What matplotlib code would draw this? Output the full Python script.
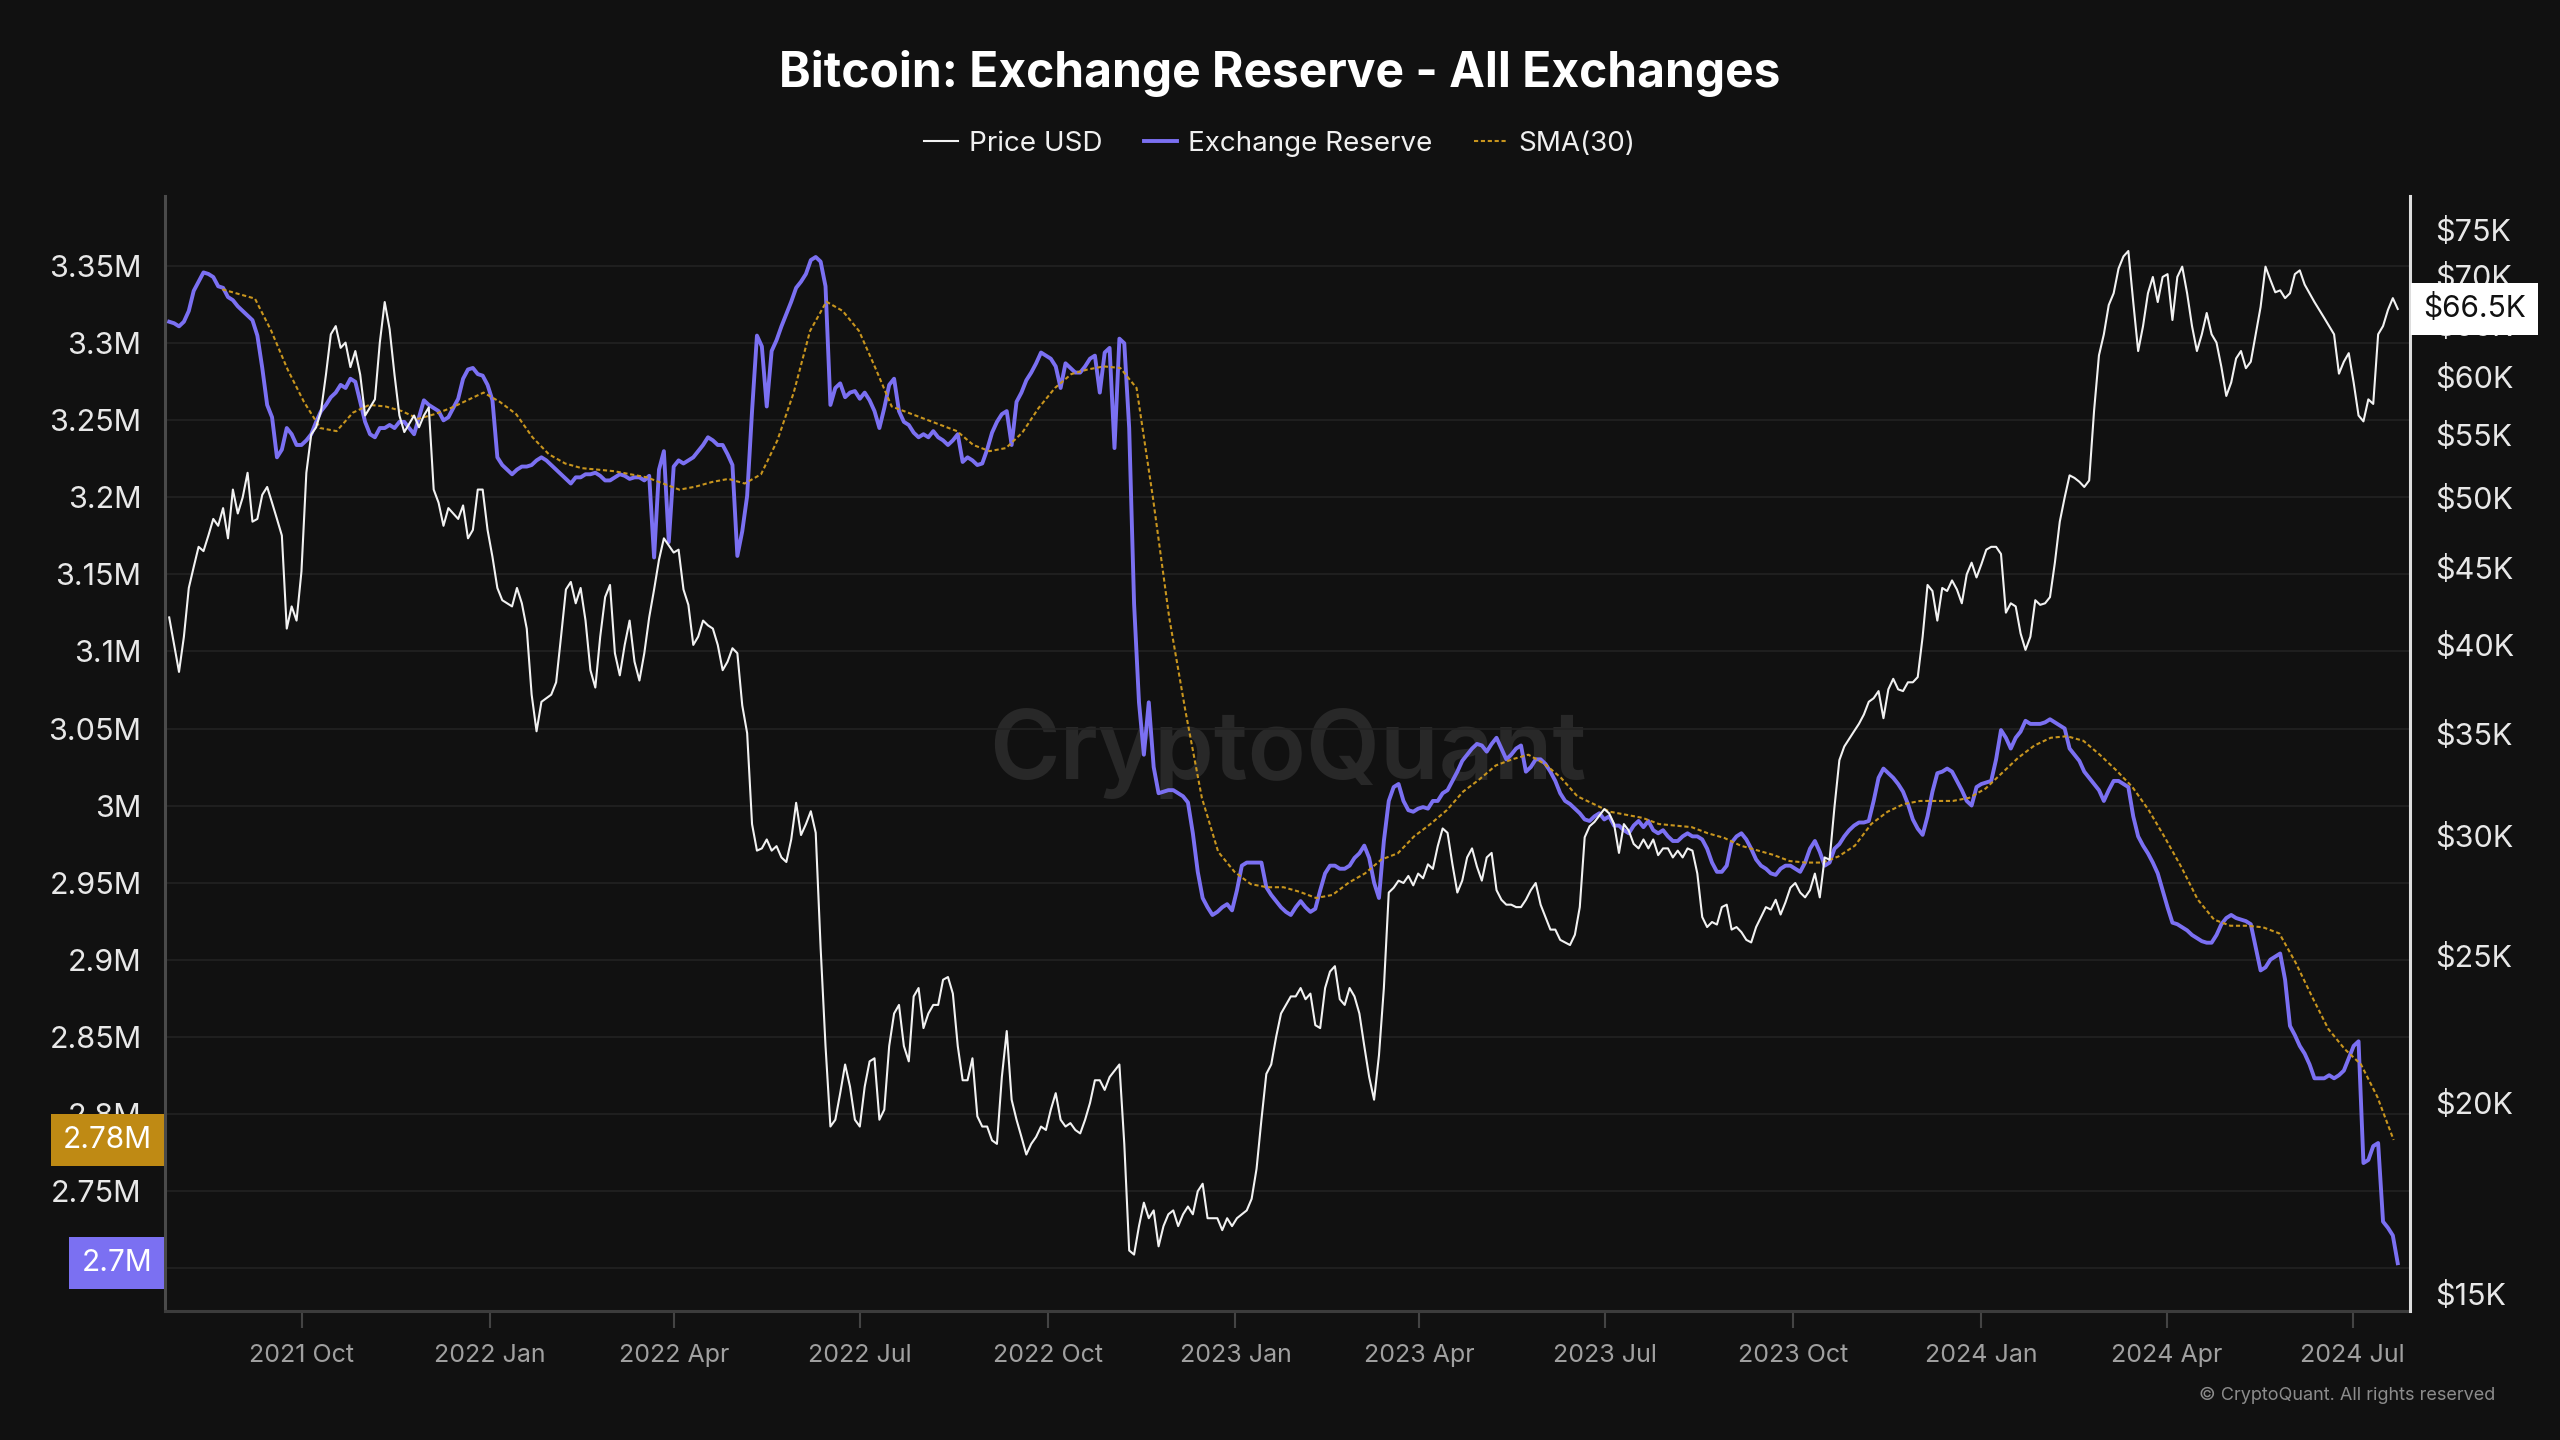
"""Bitcoin exchange reserve vs price, CryptoQuant style"""
import pandas as pd
import numpy as np
import matplotlib
matplotlib.use("Agg")
import matplotlib.pyplot as plt
import matplotlib.dates as mdates
import matplotlib.transforms as mtransforms
from matplotlib.ticker import FixedLocator, FuncFormatter, NullLocator

plt.rcParams['font.family'] = ['Inter', 'DejaVu Sans']

# ---- data ----
# price, USD thousands, evenly sampled between the two dates
price_start, price_end = "2021-07-28", "2024-07-23"
price_usd_k = [
    41.7, 40.0, 38.4, 40.5, 43.6, 45.0, 46.4, 46.1, 47.2, 48.4,
    47.9, 49.2, 47.0, 50.6, 48.8, 50.0, 51.9, 48.2, 48.4, 50.2,
    50.8, 49.6, 48.4, 47.2, 41.0, 42.4, 41.5, 44.7, 51.9, 55.0,
    55.6, 57.0, 60.2, 64.0, 64.8, 62.7, 63.2, 60.9, 62.4, 60.2,
    56.6, 57.3, 58.0, 63.2, 67.2, 64.5, 60.2, 56.6, 55.2, 55.9,
    56.6, 55.6, 56.6, 57.3, 50.6, 49.6, 47.9, 49.2, 48.8, 48.4,
    49.4, 47.0, 47.6, 50.6, 50.6, 47.6, 45.7, 43.6, 42.8, 42.6,
    42.4, 43.6, 42.6, 41.0, 37.1, 35.1, 36.7, 36.9, 37.1, 37.8,
    40.5, 43.5, 44.0, 42.6, 43.6, 41.5, 38.5, 37.5, 40.5, 43.0,
    43.8, 39.5, 38.2, 40.0, 41.5, 39.0, 37.9, 39.5, 41.7, 43.5,
    45.5, 47.0, 46.5, 46.0, 46.2, 43.5, 42.5, 40.0, 40.5, 41.5,
    41.2, 41.0, 40.0, 38.5, 39.0, 39.8, 39.5, 36.5, 35.0,
    30.5, 29.3, 29.4, 29.8, 29.3, 29.5, 29.0, 28.8, 29.8, 31.5,
    30.0, 30.5, 31.1, 30.1, 25.3, 21.8, 19.3, 19.5, 20.3, 21.2,
    20.5, 19.5, 19.3, 20.5, 21.3, 21.4, 19.5, 19.8, 21.8, 22.9,
    23.2, 21.8, 21.3, 23.5, 23.8,
    22.4, 22.9, 23.2, 23.2, 24.1, 24.2, 23.6, 21.8, 20.7, 20.7,
    21.4, 19.6, 19.3,
    19.3, 18.9, 18.8, 20.8, 22.3, 20.1, 19.5, 19.0, 18.5, 18.8,
    19.0, 19.3, 19.2, 19.8, 20.3, 19.5, 19.3, 19.4, 19.2, 19.1,
    19.5, 20.0, 20.7, 20.7, 20.4, 20.8, 21.0, 21.2, 18.8,
    16.0, 15.9, 16.6, 17.2, 16.8, 17.0, 16.1, 16.6, 16.9, 17.0,
    16.6, 16.9, 17.1, 16.9, 17.5, 17.7, 16.8, 16.8, 16.8, 16.5,
    16.8, 16.6, 16.8, 16.9, 17.0, 17.3,
    18.1, 19.5, 20.9, 21.2, 22.1, 22.9, 23.2, 23.5, 23.5, 23.8,
    23.4, 23.6, 22.5, 22.4, 23.8, 24.4, 24.6, 23.4, 23.2, 23.8,
    23.5, 22.9, 21.8, 20.8, 20.1, 21.5, 23.8, 27.5, 27.7, 28.0,
    27.9, 28.2, 27.8, 28.3, 28.1, 28.7, 28.5, 29.5, 30.3, 30.1,
    28.7, 27.5, 28.0, 29.0, 29.4, 28.6, 28.0, 29.0, 29.2, 27.6,
    27.2, 27.0, 27.0, 26.9, 26.9, 27.2, 27.6, 27.9, 27.0, 26.5,
    26.0, 26.0, 25.6, 25.5, 25.4, 25.8, 26.9, 29.9, 30.4, 30.6,
    30.9, 31.2, 31.0, 30.5, 29.2, 30.5, 30.2, 29.6, 29.4, 29.8,
    29.4, 29.8, 29.1, 29.4, 29.4, 29.0, 29.3, 29.0, 29.4, 29.3,
    28.3, 26.5, 26.1, 26.3, 26.2, 26.9, 27.0, 26.0, 26.1, 25.9,
    25.6, 25.5, 26.1, 26.5, 26.9, 26.8, 27.2, 26.6, 27.1, 27.7,
    27.9, 27.5, 27.3, 27.6, 28.3, 27.3, 29.0, 28.9, 31.3, 33.6,
    34.3, 34.7, 35.1, 35.5, 36.0, 36.7, 36.9, 37.3, 35.8, 37.4,
    38.0, 37.4, 37.3, 37.8, 37.8, 38.1, 40.5, 43.8, 43.4, 41.5,
    43.6, 43.4, 44.1, 43.5, 42.6, 44.5, 45.3, 44.3, 45.2, 46.2,
    46.4, 46.4, 45.9, 42.0, 42.6, 42.4, 40.7, 39.7, 40.5, 42.8,
    42.5, 42.6, 43.0, 45.3, 48.2, 50.0, 51.7, 51.5, 51.2, 50.8,
    51.3, 57.0, 62.0, 64.0, 66.9, 68.1, 70.7, 72.0, 72.6, 67.2,
    62.4, 64.8, 68.1, 69.8, 67.2, 69.8, 70.1, 65.4, 69.8, 70.9,
    68.1, 64.8, 62.4, 64.0, 66.1, 64.0, 63.2, 60.9, 58.3, 59.5,
    61.7, 62.4, 60.8, 61.4, 64.0, 66.7, 70.9, 69.5, 68.2, 68.4,
    67.6, 68.1, 70.1, 70.5, 69.0, 68.1, 67.2, 66.4, 65.6, 64.8,
    64.0, 60.3, 61.4, 62.2, 59.5, 56.6, 56.1, 58.0, 57.6, 64.0,
    64.8, 66.4, 67.6, 66.5,
]

# exchange reserve, BTC millions, same sampling as price
reserve_start, reserve_end = "2021-07-28", "2024-07-23"
reserve_m = [
    3.314, 3.313, 3.311, 3.314, 3.321, 3.334, 3.340, 3.346, 3.345, 3.343,
    3.337, 3.336, 3.330, 3.328, 3.324, 3.321, 3.318, 3.315, 3.305, 3.284,
    3.260, 3.252, 3.226, 3.231, 3.245, 3.241, 3.234, 3.234, 3.237, 3.241,
    3.249, 3.256, 3.260, 3.265, 3.268, 3.273, 3.271, 3.277, 3.275, 3.262,
    3.249, 3.241, 3.239, 3.245, 3.245, 3.247, 3.245, 3.249, 3.249, 3.245,
    3.241, 3.252, 3.263, 3.260, 3.258, 3.256, 3.250, 3.252, 3.258, 3.264,
    3.277, 3.283, 3.284, 3.280, 3.279, 3.273, 3.263, 3.226, 3.221, 3.218,
    3.215, 3.218, 3.220, 3.220, 3.221, 3.224, 3.226, 3.224, 3.221, 3.218,
    3.215, 3.212, 3.209, 3.213, 3.213, 3.215, 3.215, 3.216, 3.214, 3.211,
    3.211, 3.213, 3.215, 3.214, 3.212, 3.213, 3.213, 3.211, 3.214, 3.161,
    3.218, 3.230, 3.171, 3.220, 3.224, 3.222, 3.224, 3.226, 3.230, 3.234,
    3.239, 3.237, 3.234, 3.234, 3.228, 3.221, 3.162, 3.178, 3.201, 3.256,
    3.305, 3.298, 3.259, 3.295, 3.302, 3.311, 3.319, 3.327, 3.336, 3.340,
    3.345, 3.354, 3.356, 3.353, 3.337, 3.260, 3.271, 3.274, 3.265, 3.268,
    3.269, 3.264, 3.268, 3.263, 3.256, 3.245, 3.258, 3.273, 3.277, 3.256,
    3.249, 3.247, 3.242, 3.239, 3.241, 3.239, 3.243, 3.239, 3.237, 3.234,
    3.237, 3.241, 3.223, 3.226, 3.224, 3.221, 3.222, 3.231, 3.242, 3.249,
    3.254, 3.256, 3.234, 3.262, 3.268, 3.276, 3.281, 3.287, 3.294, 3.292,
    3.290, 3.285, 3.271, 3.287, 3.284, 3.281, 3.281, 3.285, 3.290, 3.292,
    3.268, 3.294, 3.297, 3.232, 3.303, 3.300, 3.245, 3.131, 3.067, 3.033,
    3.067, 3.025, 3.008, 3.009, 3.010, 3.010, 3.008, 3.006, 3.002, 2.982,
    2.957, 2.940, 2.934, 2.929, 2.931, 2.934, 2.936, 2.932, 2.945, 2.961,
    2.963, 2.963, 2.963, 2.963, 2.947, 2.942, 2.938, 2.934, 2.931, 2.929,
    2.934, 2.938, 2.934, 2.931, 2.933, 2.945, 2.956, 2.961, 2.961, 2.959,
    2.959, 2.961, 2.966, 2.969, 2.974, 2.966, 2.950, 2.940, 2.977, 3.003,
    3.012, 3.014, 3.003, 2.997, 2.996, 2.998, 2.999, 2.998, 3.003, 3.003,
    3.008, 3.010, 3.016, 3.022, 3.029, 3.033, 3.037, 3.040, 3.039, 3.035,
    3.040, 3.044, 3.037, 3.030, 3.033, 3.037, 3.039, 3.022, 3.025, 3.030,
    3.030, 3.027, 3.022, 3.016, 3.008, 3.003, 3.001, 2.998, 2.995, 2.991,
    2.990, 2.993, 2.995, 2.991, 2.993, 2.987, 2.987, 2.984, 2.982, 2.987,
    2.990, 2.986, 2.990, 2.984, 2.982, 2.984, 2.980, 2.977, 2.977, 2.980,
    2.982, 2.980, 2.980, 2.978, 2.972, 2.963, 2.957, 2.957, 2.961, 2.976,
    2.980, 2.982, 2.978, 2.972, 2.965, 2.961, 2.959, 2.956, 2.955, 2.959,
    2.961, 2.961, 2.959, 2.957, 2.963, 2.972, 2.977, 2.970, 2.961, 2.963,
    2.972, 2.975, 2.980, 2.984, 2.987, 2.989, 2.989, 2.990, 3.003, 3.018,
    3.024, 3.021, 3.018, 3.014, 3.009, 3.001, 2.991, 2.985, 2.981, 2.993,
    3.009, 3.021, 3.022, 3.024, 3.022, 3.016, 3.010, 3.003, 3.000, 3.012,
    3.014, 3.015, 3.016, 3.030, 3.049, 3.044, 3.037, 3.044, 3.048, 3.055,
    3.053, 3.053, 3.053, 3.054, 3.056, 3.054, 3.052, 3.050, 3.037, 3.033,
    3.029, 3.022, 3.018, 3.014, 3.010, 3.003, 3.010, 3.016, 3.016, 3.014,
    3.012, 2.993, 2.980, 2.974, 2.969, 2.963, 2.956, 2.945, 2.934, 2.924,
    2.923, 2.921, 2.919, 2.916, 2.914, 2.912, 2.911, 2.911, 2.916, 2.923,
    2.927, 2.929, 2.927, 2.926, 2.925, 2.923, 2.908, 2.893, 2.895, 2.900,
    2.902, 2.904, 2.887, 2.857, 2.851, 2.844, 2.839, 2.832, 2.823, 2.823,
    2.823, 2.825, 2.823, 2.825, 2.828, 2.836, 2.844, 2.847, 2.768, 2.770,
    2.779, 2.781, 2.730, 2.726, 2.721, 2.703,
]

# SMA(30) of the reserve, BTC millions, roughly every 8 days
sma_start, sma_end = "2021-08-23", "2024-07-21"
sma30_m = [
    3.335, 3.332, 3.329, 3.308, 3.283, 3.262, 3.245, 3.243, 3.255, 3.260,
    3.259, 3.256, 3.251, 3.254, 3.258, 3.263, 3.268, 3.262, 3.254, 3.239,
    3.228, 3.222, 3.219, 3.218, 3.217, 3.215, 3.213, 3.209, 3.205, 3.207,
    3.210, 3.212, 3.209, 3.215, 3.237, 3.268, 3.308, 3.327, 3.321, 3.308,
    3.284, 3.259, 3.255, 3.251, 3.247, 3.243, 3.234, 3.230, 3.232, 3.242,
    3.258, 3.271, 3.280, 3.283, 3.285, 3.284, 3.271, 3.200, 3.122, 3.061,
    3.005, 2.970, 2.957, 2.949, 2.947, 2.947, 2.944, 2.940, 2.942, 2.950,
    2.956, 2.965, 2.969, 2.980, 2.988, 2.997, 3.009, 3.017, 3.026, 3.030,
    3.033, 3.027, 3.018, 3.006, 3.001, 2.996, 2.994, 2.992, 2.988, 2.987,
    2.986, 2.982, 2.979, 2.974, 2.971, 2.968, 2.964, 2.963, 2.963, 2.967,
    2.974, 2.988, 2.996, 3.001, 3.003, 3.003, 3.003, 3.005, 3.011, 3.021,
    3.031, 3.039, 3.044, 3.045, 3.042, 3.033, 3.023, 3.012, 2.997, 2.979,
    2.960, 2.939, 2.926, 2.922, 2.922, 2.921, 2.917, 2.898, 2.876, 2.855,
    2.842, 2.832, 2.811, 2.783,
]

reserve_ticks = [2.70, 2.75, 2.80, 2.85, 2.90, 2.95, 3.00, 3.05, 3.10,
                 3.15, 3.20, 3.25, 3.30, 3.35]
price_ticks_k = [15, 20, 25, 30, 35, 40, 45, 50, 55, 60, 65, 70, 75]

# ---- style ----
BG = "#111111"
PURPLE = "#7b70f2"
GOLD = "#c8951e"
GOLD_BOX = "#bf8a14"
GRID = "#222222"
TICK_FS = 22
BOX_FS = 21.5
BOX_PAD = 0.4

price_dates = pd.date_range(price_start, price_end, periods=len(price_usd_k))
reserve_dates = pd.date_range(reserve_start, reserve_end, periods=len(reserve_m))
sma_dates = pd.date_range(sma_start, sma_end, periods=len(sma30_m))

fig = plt.figure(figsize=(25.6, 14.4), dpi=100, facecolor=BG)
ax = fig.add_axes([0.0645, 0.0896, 0.8769, 0.7743])
ax.set_facecolor(BG)
ax2 = ax.twinx()

# watermark
ax.text(0.5, 0.5, "CryptoQuant", transform=ax.transAxes, ha="center", va="center",
        fontsize=69, color="#282828", fontweight="semibold", zorder=0)

l_res, = ax.plot(reserve_dates, reserve_m, color=PURPLE, lw=2.8,
                 solid_joinstyle="round", label="Exchange Reserve", zorder=3)
l_sma, = ax.plot(sma_dates, sma30_m, color=GOLD, lw=1.5, linestyle=(0, (2, 1.3)),
                 label="SMA(30)", zorder=4)
l_price, = ax2.plot(price_dates, price_usd_k, color="#f2f2f2", lw=1.5,
                    label="Price USD", zorder=3)

ax.set_xlim(pd.Timestamp("2021-07-26"), pd.Timestamp("2024-07-29"))
ax.set_ylim(2.672, 3.3956)
ax2.set_yscale("log")
ax2.set_ylim(14.6, 78.9)

# left axis
ax.yaxis.set_major_locator(FixedLocator(reserve_ticks))
ax.yaxis.set_major_formatter(FuncFormatter(lambda v, p: f"{round(v, 2):g}M"))
ax.tick_params(axis="y", length=0, pad=17, labelsize=TICK_FS, labelcolor="#e8e8e8")
ax.grid(axis="y", color=GRID, lw=1.2)
ax.set_axisbelow(True)

# right axis
ax2.yaxis.set_major_locator(FixedLocator(price_ticks_k))
ax2.yaxis.set_minor_locator(NullLocator())
ax2.yaxis.set_major_formatter(FuncFormatter(lambda v, p: f"${v:g}K"))
ax2.tick_params(axis="y", which="both", length=0, pad=18, labelsize=22,
                labelcolor="#e8e8e8")

# x axis
ax.xaxis.set_major_locator(mdates.MonthLocator(bymonth=[1, 4, 7, 10]))
ax.xaxis.set_major_formatter(mdates.DateFormatter("%Y %b"))
ax.tick_params(axis="x", length=12, width=1.5, color="#444444", pad=12,
               labelsize=18, labelcolor="#a0a0a0")

for s in ["top", "right"]:
    ax.spines[s].set_visible(False)
ax.spines["left"].set_color("#4a4a4a")
ax.spines["left"].set_linewidth(2.2)
ax.spines["bottom"].set_color("#3c3c3c")
ax.spines["bottom"].set_linewidth(2.2)
for s in ["top", "left", "bottom"]:
    ax2.spines[s].set_visible(False)
ax2.spines["right"].set_color("#dddddd")
ax2.spines["right"].set_linewidth(2.2)

# last-value boxes, flush against the axis lines
pad_px = BOX_PAD * BOX_FS * 100 / 72
ax_w_px = ax.get_position().width * fig.get_figwidth() * fig.dpi
off = (pad_px + 1) / ax_w_px
fmt_m = lambda v: f"{round(v, 2):g}M"
left_tr = mtransforms.blended_transform_factory(ax.transAxes, ax.transData)
ax.text(-off, sma30_m[-1], fmt_m(sma30_m[-1]), transform=left_tr, ha="right",
        va="center", fontsize=BOX_FS, color="white", clip_on=False, zorder=10,
        bbox=dict(boxstyle=f"square,pad={BOX_PAD}", fc=GOLD_BOX, ec="none"))
ax.text(-off, reserve_m[-1], fmt_m(reserve_m[-1]), transform=left_tr, ha="right",
        va="center", fontsize=BOX_FS, color="white", clip_on=False, zorder=10,
        bbox=dict(boxstyle=f"square,pad={BOX_PAD}", fc=PURPLE, ec="none"))
right_tr = mtransforms.blended_transform_factory(ax2.transAxes, ax2.transData)
ax2.text(1 + off, price_usd_k[-1], f"${price_usd_k[-1]:.1f}K", transform=right_tr,
         ha="left", va="center", fontsize=BOX_FS, color="#111111", clip_on=False,
         zorder=10, bbox=dict(boxstyle=f"square,pad={BOX_PAD}", fc="white", ec="none"))

# title, legend, credit
fig.text(0.5, 0.949, "Bitcoin: Exchange Reserve - All Exchanges", ha="center",
         va="center", fontsize=34.5, fontweight="bold", color="white")
fig.legend([l_price, l_res, l_sma], ["Price USD", "Exchange Reserve", "SMA(30)"],
           loc="center", bbox_to_anchor=(0.5, 0.9), ncol=3, frameon=False,
           fontsize=20, labelcolor="#f0f0f0", handlelength=1.2,
           handletextpad=0.4, columnspacing=1.5)
fig.text(0.9746, 0.0306, "\u00a9 CryptoQuant. All rights reserved", ha="right",
         va="center", fontsize=13, color="#8c8c8c")

fig.savefig("out.png", dpi=100, facecolor=BG)
plt.close(fig)
